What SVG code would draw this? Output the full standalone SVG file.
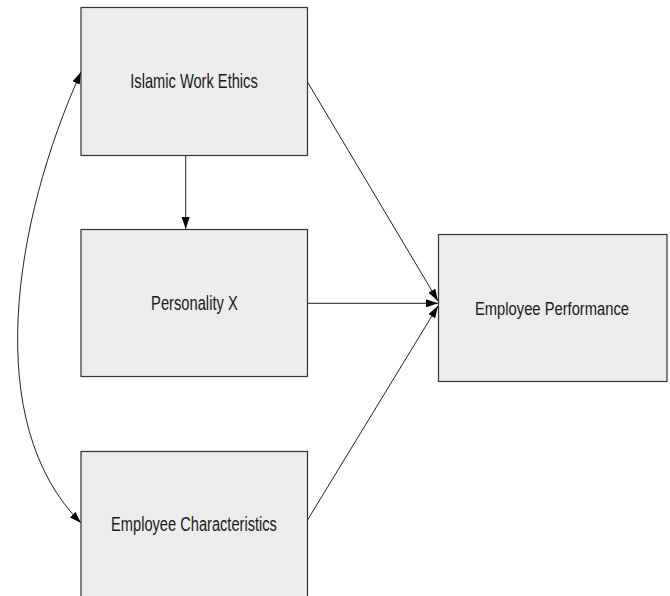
<svg xmlns="http://www.w3.org/2000/svg" width="670" height="596" viewBox="0 0 670 596">
  <style>
    .box { fill: #ececec; stroke: #333333; stroke-width: 1.2; }
    .lbl { font-family: "Liberation Sans", Arial, sans-serif; font-size: 20px; fill: #1a1a1a; text-anchor: middle; }
    .edge { fill: none; stroke: #222222; stroke-width: 1; }
  </style>
  <defs>
    <marker id="arr" markerUnits="userSpaceOnUse" markerWidth="12" markerHeight="8" viewBox="0 0 12 8" refX="12" refY="4" orient="auto-start-reverse">
      <path d="M0,0 L12,4 L0,8 z" fill="#000000"/>
    </marker>
  </defs>
  <rect width="670" height="596" fill="#ffffff"/>
  <g id="connectors">
    <path class="edge" d="M185.7,155.5 L185.7,229" marker-end="url(#arr)"/>
    <path class="edge" d="M307.5,82 L438,301" marker-end="url(#arr)"/>
    <path class="edge" d="M307.5,303.3 L438,303.3" marker-end="url(#arr)"/>
    <path class="edge" d="M307.5,520 L438,306" marker-end="url(#arr)"/>
    <path class="edge" d="M81,72 C13.5,222 -19,423 81,523" marker-start="url(#arr)" marker-end="url(#arr)"/>
  </g>
  <g id="islamic-work-ethics">
    <rect class="box" x="81" y="7.5" width="226.5" height="148"/>
    <text class="lbl" transform="translate(194,88) scale(0.733,1)">Islamic Work Ethics</text>
  </g>
  <g id="personality-x">
    <rect class="box" x="81" y="229.5" width="226.5" height="147"/>
    <text class="lbl" transform="translate(194.4,310) scale(0.736,1)">Personality X</text>
  </g>
  <g id="employee-characteristics">
    <rect class="box" x="81" y="451.5" width="226.5" height="150"/>
    <text class="lbl" transform="translate(194,530.5) scale(0.732,1)">Employee Characteristics</text>
  </g>
  <g id="employee-performance">
    <rect class="box" x="438.5" y="234.5" width="228.5" height="147"/>
    <text class="lbl" style="font-size:19px" transform="translate(552,315) scale(0.776,1)">Employee Performance</text>
  </g>
</svg>
